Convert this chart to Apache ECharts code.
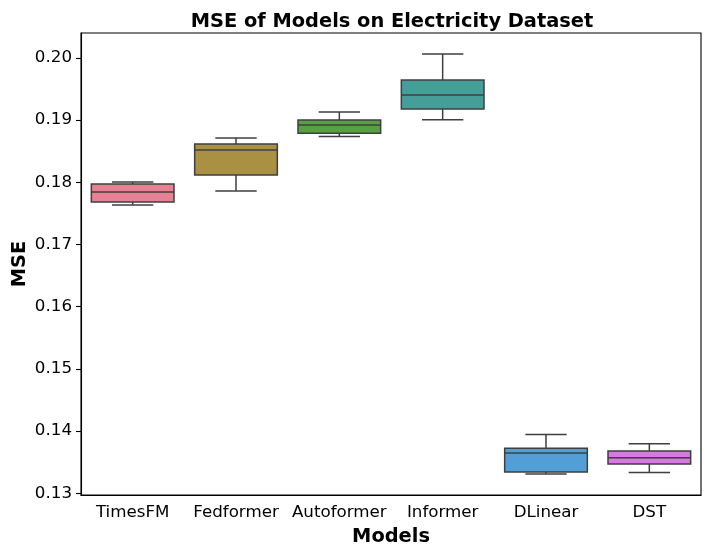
<!DOCTYPE html>
<html>
<head>
<meta charset="utf-8">
<script src="https://cdn.jsdelivr.net/npm/echarts@6/dist/echarts.min.js"></script>
<style>html,body{margin:0;padding:0;background:#fff}#c{width:711px;height:557px}</style>
</head>
<body>
<div id="c"></div>
<script>
const categories = ['TimesFM', 'Fedformer', 'Autoformer', 'Informer', 'DLinear', 'DST'];
// [whisker low, Q1, median, Q3, whisker high]
const whiskerLow = [0.17637, 0.17862, 0.18735, 0.19008, 0.13312, 0.13333];
const q1 = [0.17685, 0.18119, 0.18788, 0.19180, 0.13344, 0.13473];
const median = [0.17846, 0.18521, 0.18923, 0.19405, 0.13650, 0.13570];
const q3 = [0.17974, 0.18617, 0.19003, 0.19646, 0.13724, 0.13682];
const whiskerHigh = [0.18006, 0.18714, 0.19132, 0.20064, 0.13944, 0.13799];
const yTicks = [0.13, 0.14, 0.15, 0.16, 0.17, 0.18, 0.19, 0.20];
const colors = ['#e68294', '#aa9043', '#58a141', '#459e97', '#519fd6', '#d978e2'];

const data = categories.map((c, i) => [i, whiskerLow[i], q1[i], median[i], q3[i], whiskerHigh[i]]);
const edge = '#3f3f3f';
const lw = 1.5;
const font = 'DejaVu Sans';

const chart = echarts.init(document.getElementById('c'), null, {renderer: 'canvas'});
chart.setOption({
  animation: false,
  backgroundColor: '#fff',
  title: {
    text: 'MSE of Models on Electricity Dataset',
    left: 387, top: 7, textAlign: 'center',
    textStyle: {fontFamily: font, fontWeight: 'bold', fontSize: 19.4, color: '#000'}
  },
  grid: {left: 81, right: 10, top: 33, bottom: 62, show: true, borderColor: '#000', borderWidth: 1.1,
    containLabel: false, outerBoundsMode: 'none'},
  xAxis: {
    type: 'category', data: categories, boundaryGap: true,
    name: 'Models', nameLocation: 'middle', nameGap: 32, nameMoveOverlap: false,
    nameTextStyle: {fontFamily: font, fontWeight: 'bold', fontSize: 19.4, color: '#000'},
    axisLine: {lineStyle: {color: '#000', width: 1.1}},
    axisTick: {alignWithLabel: true, interval: 0, length: 5, lineStyle: {color: '#000', width: 1.1}},
    axisLabel: {fontFamily: font, fontSize: 16.7, color: '#000', margin: 9, interval: 0},
    splitLine: {show: false}
  },
  yAxis: {
    type: 'value', min: 0.12973, max: 0.20401,
    name: 'MSE', nameLocation: 'middle', nameGap: 52, nameMoveOverlap: false,
    nameTextStyle: {fontFamily: font, fontWeight: 'bold', fontSize: 19.4, color: '#000'},
    axisLine: {show: true, lineStyle: {color: '#000', width: 1.1}},
    axisTick: {show: true, length: 5, customValues: yTicks, lineStyle: {color: '#000', width: 1.1}},
    axisLabel: {fontFamily: font, fontSize: 16.7, color: '#000', margin: 9, customValues: yTicks,
      formatter: v => v.toFixed(2)},
    splitLine: {show: false}
  },
  series: [{
    type: 'custom',
    data: data,
    encode: {x: 0, y: [1, 2, 3, 4, 5]},
    renderItem: function (params, api) {
      const i = api.value(0);
      const band = api.size([1, 0])[0];
      const bw = band * 0.8;
      const cw = bw / 2;
      const pLow = api.coord([i, api.value(1)]);
      const pQ1 = api.coord([i, api.value(2)]);
      const pMed = api.coord([i, api.value(3)]);
      const pQ3 = api.coord([i, api.value(4)]);
      const pHigh = api.coord([i, api.value(5)]);
      const x = pMed[0];
      const ls = {stroke: edge, lineWidth: lw, fill: null};
      return {
        type: 'group',
        children: [
          {type: 'line', shape: {x1: x, y1: pQ1[1], x2: x, y2: pLow[1]}, style: ls},
          {type: 'line', shape: {x1: x, y1: pQ3[1], x2: x, y2: pHigh[1]}, style: ls},
          {type: 'line', shape: {x1: x - cw / 2, y1: pLow[1], x2: x + cw / 2, y2: pLow[1]}, style: ls},
          {type: 'line', shape: {x1: x - cw / 2, y1: pHigh[1], x2: x + cw / 2, y2: pHigh[1]}, style: ls},
          {type: 'rect', shape: {x: x - bw / 2, y: pQ3[1], width: bw, height: pQ1[1] - pQ3[1]},
            style: {fill: colors[i], stroke: edge, lineWidth: lw}},
          {type: 'line', shape: {x1: x - bw / 2, y1: pMed[1], x2: x + bw / 2, y2: pMed[1]}, style: ls}
        ]
      };
    }
  }]
});
</script>
</body>
</html>
